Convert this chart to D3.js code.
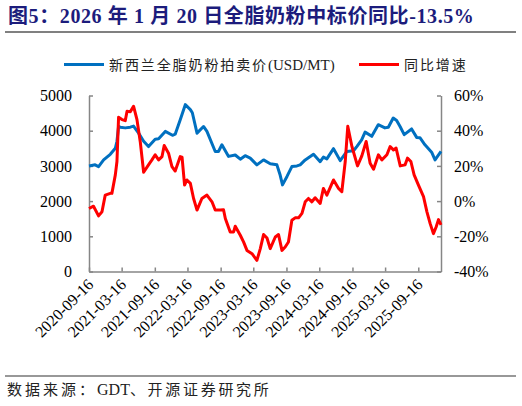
<!DOCTYPE html>
<html>
<head>
<meta charset="utf-8">
<style>
  body { margin: 0; background: white; }
  svg { display: block; }
  .tick text { font-family: "Liberation Serif", "Noto Sans CJK SC", serif; font-size: 16px; fill: #000; }
  .axis path, .axis line { stroke: #868686; stroke-width: 1.5; }
</style>
<script src="https://cdn.jsdelivr.net/npm/d3@7"></script>
</head>
<body>
<svg id="chart" width="522" height="406"></svg>
<script>
// GDT whole milk powder auction price (USD/MT)
let priceDates = ["2020-09-16","2020-10-20","2020-11-08","2020-12-06","2021-01-12","2021-02-09","2021-02-18","2021-02-27",
  "2021-03-08","2021-04-05","2021-05-03","2021-05-21","2021-06-18","2021-07-16","2021-08-12","2021-09-18","2021-10-07",
  "2021-11-13","2021-12-23","2022-01-07","2022-02-04","2022-03-04","2022-04-01","2022-04-12","2022-05-08","2022-06-13",
  "2022-07-02","2022-08-17","2022-09-04","2022-09-23","2022-10-30","2022-12-06","2023-01-03","2023-01-30","2023-02-27",
  "2023-04-05","2023-05-12","2023-06-18","2023-07-25","2023-08-12","2023-08-25","2023-09-19","2023-10-16","2023-11-13",
  "2023-12-01","2023-12-29","2024-02-13","2024-03-21","2024-04-08","2024-04-27","2024-06-03","2024-07-10","2024-08-16",
  "2024-09-22","2024-10-10","2024-11-06","2024-11-25","2025-01-01","2025-02-06","2025-03-15","2025-04-03","2025-04-30",
  "2025-05-19","2025-06-07","2025-06-30","2025-08-10","2025-09-07","2025-09-25","2025-10-23","2025-11-29","2025-12-18",
  "2026-01-20"]
let price = [3000,3030,2980,3170,3330,3500,3700,4120,
  4100,4080,4100,4130,3930,3700,3550,3760,3770,
  3980,3870,3900,4310,4740,4600,4510,3930,4120,
  3980,3410,3410,3600,3270,3310,3190,3290,3220,
  3030,3170,3060,3030,2740,2460,2700,2980,3000,
  3030,3170,3330,3120,3250,3200,3490,3150,3410,
  3430,3550,3740,3960,3840,4170,4080,4100,4360,
  4290,4120,3890,4050,3810,3800,3600,3390,3170,
  3410]

// year-on-year growth (%)
let yoyDates = ["2020-09-16","2020-10-11","2020-11-08","2020-11-27","2020-12-15","2021-01-12","2021-01-21","2021-02-09",
  "2021-02-18","2021-02-27","2021-03-18","2021-04-05","2021-04-15","2021-05-03","2021-05-21","2021-06-09","2021-06-27",
  "2021-07-16","2021-08-12","2021-08-31","2021-09-18","2021-10-07","2021-10-26","2021-11-07","2021-12-01","2021-12-20",
  "2022-01-07","2022-02-04","2022-02-14","2022-02-28","2022-03-13","2022-04-01","2022-04-19","2022-05-08","2022-06-04",
  "2022-07-02","2022-07-30","2022-08-17","2022-09-14","2022-10-02","2022-10-12","2022-11-08","2022-11-27","2022-12-06",
  "2023-01-03","2023-01-21","2023-02-09","2023-03-09","2023-04-05","2023-04-24","2023-05-12","2023-05-31","2023-06-18",
  "2023-07-16","2023-08-03","2023-08-22","2023-09-09","2023-09-27","2023-10-16","2023-11-03","2023-11-22","2023-12-11",
  "2023-12-29","2024-01-16","2024-02-04","2024-02-22","2024-03-21","2024-04-08","2024-04-27","2024-06-03","2024-07-01",
  "2024-07-19","2024-08-07","2024-08-21","2024-09-13","2024-10-14","2024-11-07","2024-12-01","2024-12-23","2025-01-11",
  "2025-02-07","2025-02-26","2025-03-26","2025-04-13","2025-05-01","2025-05-16","2025-06-08","2025-07-05","2025-07-18",
  "2025-08-06","2025-08-24","2025-09-17","2025-10-15","2025-11-03","2025-11-21","2025-12-09","2025-12-24","2026-01-06",
  "2026-01-20"]
let yoy = [-4.2,-2.9,-8.4,-6.1,3.4,4.4,4.4,14.9,
  22.5,47.6,46.3,45.7,51,50.7,53.9,46.3,33.9,
  16.4,20.6,23.4,26.3,23.4,25.3,31.6,27.2,19.6,
  17.1,25.3,25,9.1,12,10.1,1.5,-5.1,1.5,
  3.4,-0.4,-5.1,-5.1,-4.9,-9.9,-17.5,-17.5,-14.3,
  -19.4,-23.2,-28,-29.9,-33.7,-27,-19,-21,-27,
  -20.4,-19,-28,-26.1,-23.2,-10.9,-9.5,-9.5,-7,
  -0.4,1.5,-0.4,1.9,-1.3,7.2,3.4,12,7.2,
  5.3,22.5,42.5,31,20,25.7,33.9,21.5,18.1,
  26.3,23.4,26.3,31,29.1,30.1,20,20.6,24.4,
  22.5,14.9,9.1,2.5,-6.1,-12.8,-18.5,-14.7,-10.5,
  -13.5]

let xTicks = ["2020-09-16","2021-03-16","2021-09-16","2022-03-16","2022-09-16","2023-03-16",
  "2023-09-16","2024-03-16","2024-09-16","2025-03-16","2025-09-16"]
let leftTicks = [0,1000,2000,3000,4000,5000]
let rightTicks = [-40,-20,0,20,40,60]

let parse = d3.timeParse("%Y-%m-%d")
let fmt = d3.timeFormat("%Y-%m-%d")

let priceData = priceDates.map((d, i) => ({date: parse(d), v: price[i]}))
let yoyData = yoyDates.map((d, i) => ({date: parse(d), v: yoy[i]}))

let svg = d3.select("#chart")
let fontFam = "'Liberation Serif', 'Noto Sans CJK SC', serif"

// title
svg.append("text")
  .attr("x", 8).attr("y", 23)
  .attr("font-family", fontFam)
  .attr("font-size", 20).attr("font-weight", "bold").attr("letter-spacing", 0.6)
  .attr("fill", "#1c1c7c")
  .text("图5：2026 年 1 月 20 日全脂奶粉中标价同比-13.5%")

svg.append("line").attr("x1", 5).attr("x2", 516).attr("y1", 32).attr("y2", 32)
  .attr("stroke", "#808080").attr("stroke-width", 2)

let x = d3.scaleTime()
  .domain([parse("2020-09-16"), parse("2026-01-20")])
  .range([89, 441])
let yL = d3.scaleLinear().domain([0, 5000]).range([271.5, 95.5])
let yR = d3.scaleLinear().domain([-40, 60]).range([271.5, 95.5])

// axes
svg.append("g").attr("class", "axis")
  .attr("transform", "translate(89,0)")
  .call(d3.axisLeft(yL).tickValues(leftTicks).tickSize(-4).tickSizeOuter(0).tickPadding(17)
    .tickFormat(d3.format("d")))

svg.append("g").attr("class", "axis")
  .attr("transform", "translate(441,0)")
  .call(d3.axisRight(yR).tickValues(rightTicks).tickSize(-4).tickSizeOuter(0).tickPadding(13)
    .tickFormat(d => d + "%"))

let xAxis = svg.append("g").attr("class", "axis")
  .attr("transform", "translate(0,271.5)")
  .call(d3.axisBottom(x).tickValues(xTicks.map(parse)).tickSize(-4).tickSizeOuter(0).tickFormat(fmt))

xAxis.selectAll(".tick text")
  .attr("text-anchor", "end")
  .attr("x", 0).attr("y", 0).attr("dy", 0)
  .attr("transform", "translate(5,14) rotate(-45)")

svg.selectAll(".domain").attr("fill", "none")

// lines
let priceLine = d3.line().x(d => x(d.date)).y(d => yL(d.v))
let yoyLine = d3.line().x(d => x(d.date)).y(d => yR(d.v))

svg.append("path").datum(priceData)
  .attr("d", priceLine)
  .attr("fill", "none").attr("stroke", "#0070c0").attr("stroke-width", 3)
  .attr("stroke-linejoin", "round")

svg.append("path").datum(yoyData)
  .attr("d", yoyLine)
  .attr("fill", "none").attr("stroke", "#ff0000").attr("stroke-width", 3)
  .attr("stroke-linejoin", "round")

// legend
let legend = [
  {cjk: "新西兰全脂奶粉拍卖价", latin: "(USD/MT)", color: "#0070c0", x: 64},
  {cjk: "同比增速", latin: "", color: "#ff0000", x: 359}
]
let lg = svg.selectAll(".legend").data(legend).enter().append("g")
lg.append("line")
  .attr("x1", d => d.x).attr("x2", d => d.x + 40)
  .attr("y1", 64.5).attr("y2", 64.5)
  .attr("stroke", d => d.color).attr("stroke-width", 3)
let lt = lg.append("text")
  .attr("x", d => d.x + 45).attr("y", 70)
  .attr("font-family", fontFam)
  .attr("fill", "#222")
lt.append("tspan").attr("font-size", 14).attr("letter-spacing", 1.9).text(d => d.cjk)
lt.append("tspan").attr("font-size", 15).text(d => d.latin)

// source
svg.append("line").attr("x1", 5).attr("x2", 516).attr("y1", 376).attr("y2", 376)
  .attr("stroke", "#333").attr("stroke-width", 1.2)
let src = svg.append("text")
  .attr("x", 7).attr("y", 395)
  .attr("font-family", fontFam)
  .attr("fill", "#222")
src.append("tspan").attr("font-size", 15).attr("letter-spacing", 3).text("数据来源：")
src.append("tspan").attr("font-size", 16).text("GDT")
src.append("tspan").attr("font-size", 15).attr("letter-spacing", 2.7).text("、开源证券研究所")
</script>
</body>
</html>
